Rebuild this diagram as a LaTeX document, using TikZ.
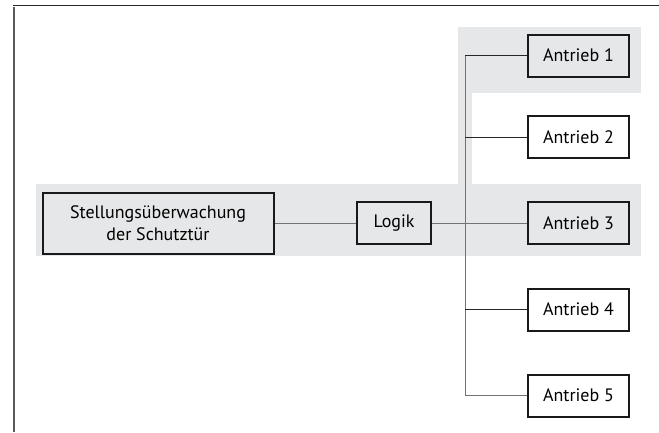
\documentclass[tikz,border=0pt]{standalone}
\usepackage{fontspec}
\setmainfont{PT Sans}
\usetikzlibrary{positioning}

\definecolor{bandgray}{RGB}{230,231,232}

\begin{document}
\begin{tikzpicture}[
                x = 1pt, y = -1pt, % pixel-like units, y pointing down
                node distance = 42pt, % gap between the drive boxes
                box/.style = {draw = black!90, line width = 2pt, fill = white,
                    align = center, minimum height = 42pt, inner sep = 2pt,
                    font = \fontsize{18}{22}\selectfont},
                drive/.style = {box, minimum width = 101pt},
                link/.style = {draw = black!55, line width = 0.9pt},
                branch/.style = {draw = black!85, line width = 0.8pt}
            ]

            \useasboundingbox (0,0) rectangle (659,432);

            % open frame, top and left only
            \draw[black!65, line width = 2pt] (14,432) -- (14,6.5);
            \draw[black!85, line width = 1.3pt] (13,5.8) -- (659,5.8);

            % shaded bands behind the highlighted path
            \fill[bandgray] (458,27) rectangle (641,92.5);
            \fill[bandgray] (458,92) rectangle (471.5,185);
            \fill[bandgray] (36,184) rectangle (641,256);

            \node[drive, fill = bandgray] (a3) at (578.5,223) {Antrieb 3};
            \node[drive] (a2) [above = of a3] {Antrieb 2};
            \node[drive, fill = bandgray] (a1) [above = 37.5pt of a2] {Antrieb 1};
            \node[drive] (a4) [below = 42.5pt of a3] {Antrieb 4};
            \node[drive] (a5) [below = of a4] {Antrieb 5};

            \node[box, fill = bandgray, minimum width = 74pt] (logik) [left = 95pt of a3] {Logik};
            \node[box, fill = bandgray, minimum width = 231pt, minimum height = 61pt]
                (tuer) [left = 81.5pt of logik] {Stellungsüberwachung\\der Schutztür};

            \coordinate (bus) at (465.3,0);

            \path[link] (tuer) edge (logik) (logik) edge (a3);
            \draw[link] (a1.west -| bus) -- (a5.west -| bus) -- (a5.west);
            \foreach \i in {1,2,4}
                \draw[branch] (a\i.west) -- (a\i.west -| bus);

        \end{tikzpicture}
\end{document}
